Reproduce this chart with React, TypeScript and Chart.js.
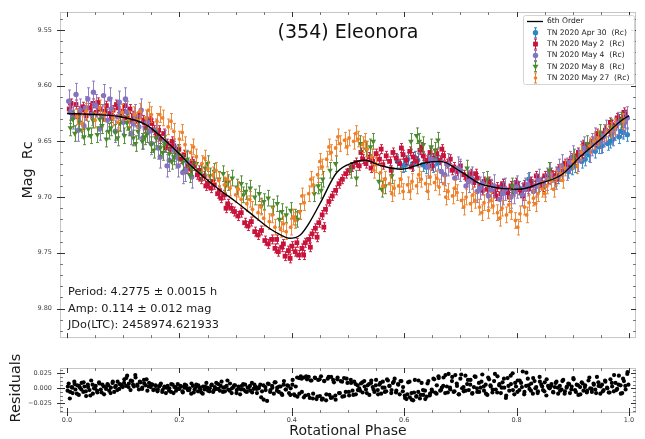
import React, { useEffect, useRef } from 'react';
import { Chart, registerables } from 'chart.js';
Chart.register(...registerables);

const FONT = '"DejaVu Sans", "Liberation Sans", sans-serif';

// 6th order Fourier fit (phase, mag)
const fitPhase = [0.000, 0.050, 0.095, 0.140, 0.185, 0.225, 0.270, 0.300, 0.330, 0.360, 0.380, 0.395, 0.415, 0.430, 0.450, 0.480, 0.510, 0.530, 0.560, 0.595, 0.640, 0.665, 0.700, 0.735, 0.770, 0.805, 0.840, 0.880, 0.915, 0.950, 0.985, 1.000];
const fitMag = [9.625, 9.626, 9.628, 9.635, 9.654, 9.674, 9.693, 9.704, 9.716, 9.728, 9.734, 9.737, 9.734, 9.724, 9.706, 9.678, 9.669, 9.667, 9.672, 9.675, 9.669, 9.668, 9.677, 9.688, 9.692, 9.693, 9.688, 9.680, 9.663, 9.648, 9.632, 9.627];

// Session data: [phase, mag]
const apr30 = [
  [0.588, 9.668], [0.597, 9.672], [0.606, 9.666], [0.615, 9.670], [0.624, 9.667], [0.633, 9.671], [0.642, 9.668], [0.651, 9.672], [0.660, 9.669],
  [0.775, 9.690], [0.805, 9.692], [0.822, 9.684], [0.838, 9.690], [0.855, 9.683], [0.868, 9.685], [0.880, 9.679], [0.892, 9.677], [0.904, 9.672],
  [0.916, 9.668], [0.928, 9.662], [0.940, 9.659], [0.952, 9.654], [0.962, 9.652], [0.972, 9.648], [0.982, 9.646], [0.990, 9.642], [0.997, 9.644],
  [0.602, 9.671], [0.620, 9.665], [0.638, 9.673], [0.656, 9.666], [0.846, 9.688], [0.874, 9.682], [0.898, 9.674], [0.922, 9.666], [0.946, 9.655],
  [0.967, 9.650], [0.986, 9.641],
];
const may2 = [
  [0.004, 9.621], [0.010, 9.626], [0.016, 9.617], [0.022, 9.623], [0.028, 9.619], [0.034, 9.627], [0.040, 9.620], [0.046, 9.616], [0.052, 9.624],
  [0.058, 9.621], [0.064, 9.628], [0.070, 9.618], [0.076, 9.625], [0.082, 9.622], [0.088, 9.617], [0.094, 9.627], [0.100, 9.623], [0.106, 9.629],
  [0.112, 9.621], [0.118, 9.627], [0.124, 9.632], [0.130, 9.625], [0.136, 9.631], [0.142, 9.635], [0.148, 9.630], [0.154, 9.640], [0.160, 9.644],
  [0.166, 9.648], [0.172, 9.643], [0.178, 9.652], [0.184, 9.657], [0.190, 9.654], [0.196, 9.662], [0.202, 9.666], [0.208, 9.662], [0.214, 9.671],
  [0.220, 9.675], [0.226, 9.672], [0.232, 9.680], [0.238, 9.684], [0.244, 9.681], [0.250, 9.688], [0.256, 9.692], [0.262, 9.689], [0.268, 9.697],
  [0.274, 9.701], [0.280, 9.698], [0.286, 9.706], [0.292, 9.710], [0.298, 9.713], [0.304, 9.717], [0.310, 9.714], [0.316, 9.723], [0.322, 9.726],
  [0.328, 9.722], [0.334, 9.731], [0.340, 9.734], [0.346, 9.730], [0.352, 9.739], [0.358, 9.742], [0.364, 9.738], [0.370, 9.746], [0.376, 9.749],
  [0.382, 9.745], [0.388, 9.753], [0.394, 9.748], [0.400, 9.744], [0.406, 9.749], [0.412, 9.752], [0.418, 9.746], [0.424, 9.741], [0.430, 9.738],
  [0.436, 9.733], [0.442, 9.728], [0.448, 9.723], [0.454, 9.716], [0.460, 9.711], [0.466, 9.704], [0.472, 9.699], [0.478, 9.694], [0.484, 9.688],
  [0.490, 9.684], [0.496, 9.679], [0.502, 9.676], [0.508, 9.673], [0.514, 9.669], [0.520, 9.672], [0.526, 9.666], [0.532, 9.670], [0.538, 9.664],
  [0.544, 9.668], [0.550, 9.661], [0.556, 9.666], [0.562, 9.671], [0.568, 9.663], [0.574, 9.668], [0.580, 9.660], [0.586, 9.665], [0.592, 9.670],
  [0.598, 9.662], [0.604, 9.667], [0.610, 9.659], [0.616, 9.664], [0.622, 9.668], [0.628, 9.658], [0.634, 9.663], [0.640, 9.667], [0.646, 9.660],
  [0.652, 9.665], [0.658, 9.661], [0.664, 9.667], [0.670, 9.663], [0.676, 9.670], [0.682, 9.666], [0.688, 9.673], [0.694, 9.677], [0.700, 9.672],
  [0.706, 9.680], [0.712, 9.684], [0.718, 9.679], [0.724, 9.687], [0.730, 9.683], [0.736, 9.690], [0.742, 9.686], [0.748, 9.693], [0.754, 9.689],
  [0.760, 9.695], [0.766, 9.691], [0.772, 9.697], [0.778, 9.692], [0.784, 9.696], [0.790, 9.690], [0.796, 9.695], [0.802, 9.691], [0.808, 9.696],
  [0.814, 9.689], [0.820, 9.693], [0.826, 9.686], [0.832, 9.690], [0.838, 9.684], [0.844, 9.687], [0.850, 9.681], [0.856, 9.684], [0.862, 9.678],
  [0.868, 9.681], [0.874, 9.675], [0.880, 9.677], [0.886, 9.670], [0.892, 9.672], [0.898, 9.665], [0.904, 9.667], [0.910, 9.660], [0.916, 9.661],
  [0.922, 9.655], [0.928, 9.656], [0.934, 9.650], [0.940, 9.651], [0.946, 9.645], [0.952, 9.646], [0.958, 9.640], [0.964, 9.641], [0.970, 9.635],
  [0.976, 9.636], [0.982, 9.630], [0.988, 9.631], [0.994, 9.626],
  [0.523, 9.660], [0.541, 9.674], [0.559, 9.657], [0.577, 9.676], [0.595, 9.656], [0.613, 9.673], [0.631, 9.655], [0.649, 9.672], [0.667, 9.657],
  [0.685, 9.676], [0.373, 9.738], [0.385, 9.742], [0.397, 9.755], [0.409, 9.741], [0.421, 9.752], [0.433, 9.745], [0.445, 9.736], [0.457, 9.727],
  [0.007, 9.616], [0.019, 9.628], [0.031, 9.622], [0.043, 9.625], [0.055, 9.615], [0.067, 9.623], [0.079, 9.629], [0.091, 9.620], [0.103, 9.618],
  [0.115, 9.632], [0.127, 9.628], [0.139, 9.638], [0.151, 9.634], [0.163, 9.640], [0.175, 9.656], [0.187, 9.650], [0.199, 9.657], [0.211, 9.675],
  [0.223, 9.668], [0.235, 9.676], [0.247, 9.690], [0.259, 9.686], [0.271, 9.694], [0.283, 9.710], [0.727, 9.679], [0.739, 9.694], [0.751, 9.686],
  [0.763, 9.699], [0.775, 9.688], [0.787, 9.700], [0.799, 9.687], [0.811, 9.699], [0.823, 9.690], [0.835, 9.681], [0.847, 9.691], [0.859, 9.679],
  [0.871, 9.684], [0.883, 9.672], [0.895, 9.668], [0.907, 9.663], [0.919, 9.653], [0.931, 9.654], [0.943, 9.643], [0.955, 9.643], [0.967, 9.633],
  [0.979, 9.629], [0.991, 9.624],
];
const may4 = [
  [0.003, 9.614], [0.010, 9.629], [0.016, 9.608], [0.023, 9.622], [0.030, 9.636], [0.037, 9.612], [0.044, 9.626], [0.051, 9.618], [0.058, 9.639],
  [0.065, 9.609], [0.072, 9.631], [0.079, 9.621], [0.086, 9.641], [0.093, 9.615], [0.100, 9.633], [0.107, 9.624], [0.114, 9.643], [0.121, 9.627],
  [0.128, 9.637], [0.135, 9.647], [0.142, 9.633], [0.150, 9.652], [0.158, 9.640], [0.166, 9.664], [0.174, 9.650], [0.182, 9.667], [0.190, 9.658],
  [0.198, 9.672], [0.206, 9.678], [0.214, 9.668], [0.222, 9.682],
  [0.006, 9.624], [0.020, 9.640], [0.033, 9.620], [0.047, 9.606], [0.062, 9.627], [0.076, 9.612], [0.090, 9.628], [0.104, 9.612], [0.118, 9.634],
  [0.132, 9.622], [0.146, 9.641], [0.162, 9.656], [0.178, 9.672], [0.194, 9.664], [0.210, 9.676],
  [0.642, 9.673], [0.654, 9.667], [0.666, 9.677], [0.678, 9.671], [0.690, 9.683], [0.700, 9.676], [0.710, 9.690], [0.720, 9.683], [0.730, 9.695],
  [0.740, 9.688], [0.750, 9.699], [0.760, 9.690], [0.770, 9.702], [0.780, 9.693], [0.790, 9.700], [0.800, 9.691], [0.810, 9.698], [0.820, 9.689],
  [0.830, 9.695], [0.840, 9.685], [0.850, 9.690], [0.860, 9.679], [0.870, 9.683], [0.880, 9.672], [0.890, 9.675], [0.900, 9.664], [0.910, 9.667],
  [0.920, 9.656], [0.930, 9.659], [0.940, 9.648], [0.950, 9.651], [0.960, 9.641], [0.970, 9.643], [0.980, 9.634], [0.990, 9.636], [0.997, 9.629],
  [0.648, 9.666], [0.672, 9.680], [0.695, 9.674], [0.715, 9.686], [0.735, 9.692], [0.755, 9.694], [0.775, 9.697], [0.795, 9.696], [0.815, 9.693],
  [0.835, 9.690], [0.855, 9.684], [0.875, 9.676], [0.895, 9.669], [0.915, 9.660], [0.935, 9.653], [0.955, 9.645], [0.975, 9.639], [0.993, 9.633],
];
const may8 = [
  [0.006, 9.638], [0.014, 9.643], [0.022, 9.633], [0.030, 9.646], [0.038, 9.639], [0.046, 9.631], [0.054, 9.644], [0.062, 9.636], [0.070, 9.648],
  [0.078, 9.638], [0.086, 9.642], [0.094, 9.634], [0.102, 9.645], [0.110, 9.638], [0.118, 9.647], [0.126, 9.641], [0.134, 9.650], [0.142, 9.644],
  [0.150, 9.653], [0.158, 9.647], [0.166, 9.656], [0.174, 9.652], [0.182, 9.661], [0.190, 9.664], [0.198, 9.660], [0.206, 9.669], [0.214, 9.666],
  [0.222, 9.674], [0.230, 9.670], [0.238, 9.678], [0.246, 9.674], [0.254, 9.681], [0.262, 9.677], [0.270, 9.684], [0.278, 9.679], [0.286, 9.687],
  [0.294, 9.683], [0.302, 9.691], [0.310, 9.688], [0.318, 9.695], [0.326, 9.692], [0.334, 9.700], [0.342, 9.697], [0.350, 9.704], [0.358, 9.701],
  [0.366, 9.709], [0.374, 9.706], [0.382, 9.713], [0.390, 9.716], [0.398, 9.712], [0.406, 9.718], [0.414, 9.713], [0.440, 9.697], [0.447, 9.690],
  [0.455, 9.684], [0.468, 9.676], [0.478, 9.670], [0.505, 9.676], [0.515, 9.683], [0.522, 9.652], [0.532, 9.657], [0.545, 9.650], [0.555, 9.686],
  [0.566, 9.690], [0.578, 9.681], [0.612, 9.650], [0.622, 9.645], [0.634, 9.653], [0.648, 9.655], [0.660, 9.649], [0.712, 9.674], [0.748, 9.684],
  [0.792, 9.690], [0.858, 9.676], [0.902, 9.664], [0.926, 9.652], [0.948, 9.642], [0.968, 9.637], [0.986, 9.631],
  [0.010, 9.630], [0.026, 9.640], [0.042, 9.645], [0.058, 9.630], [0.074, 9.641], [0.090, 9.647], [0.106, 9.633], [0.122, 9.652], [0.138, 9.646],
  [0.154, 9.658], [0.170, 9.660], [0.186, 9.668], [0.218, 9.680], [0.250, 9.670], [0.282, 9.690], [0.314, 9.698], [0.346, 9.708], [0.378, 9.720],
  [0.410, 9.720], [0.452, 9.694], [0.540, 9.655], [0.560, 9.693], [0.627, 9.650], [0.655, 9.658],
];
const may27 = [
  [0.018, 9.628], [0.034, 9.623], [0.050, 9.631], [0.066, 9.625], [0.082, 9.629], [0.098, 9.624], [0.110, 9.630], [0.120, 9.626], [0.130, 9.623],
  [0.140, 9.629], [0.150, 9.626], [0.160, 9.632], [0.170, 9.629], [0.180, 9.637], [0.190, 9.641], [0.200, 9.648], [0.210, 9.653], [0.220, 9.660],
  [0.230, 9.664], [0.240, 9.670], [0.250, 9.675], [0.260, 9.680], [0.270, 9.685], [0.280, 9.689], [0.290, 9.692], [0.300, 9.698], [0.310, 9.702],
  [0.320, 9.706], [0.330, 9.711], [0.340, 9.714], [0.350, 9.719], [0.360, 9.722], [0.370, 9.727], [0.380, 9.729], [0.390, 9.731], [0.398, 9.727],
  [0.406, 9.721], [0.414, 9.713], [0.422, 9.705], [0.430, 9.697], [0.438, 9.689], [0.446, 9.680], [0.454, 9.673], [0.462, 9.666], [0.470, 9.660],
  [0.478, 9.656], [0.486, 9.652], [0.494, 9.649], [0.502, 9.647], [0.510, 9.650], [0.518, 9.648], [0.526, 9.653], [0.534, 9.657], [0.542, 9.664],
  [0.550, 9.671], [0.558, 9.678], [0.566, 9.684], [0.574, 9.688], [0.582, 9.692], [0.590, 9.690], [0.598, 9.695], [0.606, 9.689], [0.614, 9.686],
  [0.622, 9.690], [0.630, 9.684], [0.638, 9.688], [0.646, 9.682], [0.654, 9.687], [0.662, 9.691], [0.670, 9.688], [0.678, 9.695], [0.686, 9.699],
  [0.694, 9.696], [0.702, 9.703], [0.710, 9.700], [0.718, 9.706], [0.726, 9.703], [0.734, 9.709], [0.742, 9.705], [0.750, 9.712], [0.758, 9.708],
  [0.766, 9.714], [0.774, 9.710], [0.782, 9.716], [0.790, 9.713], [0.798, 9.721], [0.806, 9.715], [0.814, 9.709], [0.822, 9.705], [0.830, 9.701],
  [0.838, 9.697], [0.846, 9.693], [0.854, 9.690], [0.862, 9.686], [0.870, 9.683], [0.878, 9.679], [0.886, 9.674], [0.900, 9.668], [0.915, 9.660],
  [0.930, 9.654], [0.945, 9.647], [0.960, 9.642], [0.975, 9.637], [0.990, 9.632],
  [0.026, 9.634], [0.058, 9.620], [0.090, 9.633], [0.125, 9.631], [0.145, 9.622], [0.165, 9.626], [0.185, 9.632], [0.205, 9.642], [0.225, 9.655],
  [0.245, 9.665], [0.265, 9.676], [0.285, 9.684], [0.305, 9.693], [0.325, 9.702], [0.345, 9.709], [0.365, 9.716], [0.385, 9.724], [0.402, 9.718],
  [0.418, 9.699], [0.434, 9.684], [0.450, 9.668], [0.466, 9.655], [0.482, 9.646], [0.498, 9.655], [0.514, 9.643], [0.530, 9.650], [0.546, 9.676],
  [0.562, 9.690], [0.578, 9.697], [0.594, 9.684], [0.610, 9.695], [0.626, 9.680], [0.642, 9.695], [0.658, 9.683], [0.674, 9.700], [0.690, 9.692],
  [0.706, 9.709], [0.722, 9.698], [0.738, 9.714], [0.754, 9.703], [0.770, 9.719], [0.786, 9.707], [0.802, 9.727], [0.818, 9.716], [0.834, 9.706],
  [0.850, 9.697], [0.866, 9.693], [0.882, 9.685], [0.908, 9.672], [0.938, 9.650], [0.968, 9.640],
];

// Error bar half-lengths (mag) per session
const errApr30 = 0.006;
const errMay2 = 0.004;
const errMay4 = 0.010;
const errMay8 = 0.007;
const errMay27 = 0.007;

// Residuals: [phase, residual mag]
const residuals = [
  [0.001, -0.004], [0.003, 0.008], [0.005, -0.017], [0.008, 0.002], [0.010, -0.008], [0.013, 0.011], [0.015, -0.002], [0.018, 0.005], [0.021, -0.011], [0.023, 0.001],
  [0.026, 0.009], [0.029, -0.006], [0.031, 0.003], [0.034, -0.013], [0.037, 0.006], [0.040, -0.003], [0.043, 0.013], [0.046, -0.009], [0.048, 0.000], [0.051, 0.004],
  [0.054, -0.007], [0.057, 0.010], [0.060, -0.002], [0.063, 0.006], [0.066, -0.010], [0.069, 0.003], [0.072, 0.007], [0.075, -0.004], [0.078, 0.001], [0.081, 0.009],
  [0.084, -0.006], [0.087, 0.004], [0.090, 0.011], [0.093, -0.001], [0.096, 0.006], [0.099, 0.002],
  [0.102, 0.015], [0.105, 0.004], [0.107, 0.021], [0.110, 0.008], [0.113, -0.003], [0.116, 0.012], [0.119, 0.003], [0.122, 0.018], [0.125, 0.006], [0.128, -0.002],
  [0.131, 0.010], [0.134, 0.001], [0.137, 0.014], [0.140, 0.005], [0.143, -0.004], [0.146, 0.009], [0.149, 0.002], [0.152, 0.006], [0.155, -0.002], [0.158, 0.004],
  [0.161, -0.005], [0.164, 0.003], [0.167, 0.008], [0.170, -0.003], [0.173, 0.001], [0.176, -0.008], [0.179, 0.004], [0.182, 0.000], [0.185, -0.006], [0.188, 0.006],
  [0.191, 0.002], [0.194, -0.004], [0.197, 0.007], [0.200, -0.001], [0.203, 0.003], [0.206, -0.007], [0.209, 0.001], [0.212, 0.005], [0.215, -0.003], [0.218, 0.000],
  [0.221, -0.009], [0.224, 0.004], [0.227, -0.002], [0.230, 0.006], [0.233, -0.005], [0.236, 0.001], [0.239, -0.007], [0.242, 0.003], [0.245, -0.002], [0.248, 0.009],
  [0.251, -0.004], [0.254, 0.000], [0.257, 0.005], [0.260, -0.006], [0.263, 0.002], [0.266, -0.001], [0.269, 0.007], [0.272, -0.004], [0.275, 0.011], [0.278, 0.001],
  [0.281, -0.005], [0.284, 0.004], [0.287, -0.002], [0.290, 0.008], [0.293, -0.008], [0.296, 0.002], [0.299, 0.005], [0.302, -0.003], [0.305, 0.000], [0.308, -0.010],
  [0.311, 0.004], [0.314, -0.002], [0.317, 0.006], [0.320, -0.006], [0.323, 0.001], [0.326, -0.004], [0.329, 0.009], [0.332, -0.001], [0.335, 0.003], [0.338, -0.008],
  [0.341, 0.000], [0.344, 0.006], [0.347, -0.005], [0.350, -0.019], [0.353, 0.002], [0.356, -0.021], [0.359, 0.007], [0.362, -0.003], [0.365, 0.004], [0.368, -0.009],
  [0.371, 0.010], [0.374, 0.001], [0.377, -0.006], [0.380, 0.003], [0.383, -0.011], [0.386, 0.012], [0.389, -0.002], [0.392, 0.005], [0.395, -0.008], [0.398, 0.000],
  [0.401, 0.006], [0.404, -0.010], [0.407, 0.003], [0.410, -0.014], [0.413, 0.017], [0.416, 0.020], [0.418, -0.006], [0.421, 0.018], [0.424, -0.012], [0.427, 0.015],
  [0.430, 0.019], [0.432, -0.016], [0.435, 0.013], [0.438, -0.009], [0.441, 0.018], [0.444, -0.018], [0.447, 0.014], [0.450, -0.013], [0.452, 0.020], [0.455, -0.017],
  [0.458, 0.012], [0.461, -0.020], [0.464, 0.016], [0.467, -0.011], [0.470, 0.019], [0.472, -0.015], [0.475, 0.010], [0.478, -0.019], [0.481, 0.015], [0.484, -0.008],
  [0.487, 0.012], [0.490, -0.014], [0.493, 0.017], [0.496, -0.006], [0.499, 0.009], [0.502, -0.012], [0.505, 0.014], [0.508, -0.004], [0.511, 0.011], [0.514, -0.010],
  [0.517, 0.005], [0.520, 0.000], [0.523, 0.008], [0.526, -0.007], [0.529, 0.012], [0.532, -0.002], [0.535, 0.005], [0.538, -0.011], [0.541, 0.009], [0.544, 0.002],
  [0.547, -0.006], [0.550, 0.014], [0.553, -0.003], [0.556, 0.006], [0.559, -0.009], [0.562, 0.011], [0.565, 0.001], [0.568, -0.005], [0.571, 0.013], [0.574, 0.004],
  [0.577, -0.008], [0.580, 0.009], [0.583, 0.016], [0.586, -0.004], [0.589, 0.007], [0.592, -0.010], [0.595, 0.012], [0.598, 0.002],
  [0.601, -0.012], [0.604, -0.018], [0.607, 0.010], [0.610, -0.015], [0.613, -0.008], [0.616, -0.020], [0.619, 0.014], [0.622, -0.013], [0.625, -0.006], [0.628, -0.017],
  [0.631, 0.009], [0.634, -0.011], [0.637, -0.004], [0.640, -0.014], [0.643, 0.012], [0.646, -0.009], [0.649, -0.002], [0.652, 0.016], [0.655, -0.007], [0.658, 0.005],
  [0.661, 0.020], [0.664, -0.004], [0.667, 0.001], [0.670, 0.018], [0.673, -0.008], [0.676, 0.003], [0.679, 0.024], [0.682, -0.002], [0.685, 0.012], [0.688, -0.006],
  [0.691, 0.022], [0.694, 0.004], [0.697, -0.010], [0.700, 0.016], [0.703, 0.000], [0.706, -0.005], [0.709, 0.021], [0.712, 0.007], [0.715, -0.003], [0.718, 0.014],
  [0.721, -0.009], [0.724, 0.002], [0.727, 0.019], [0.730, -0.006], [0.733, 0.009], [0.736, 0.001], [0.739, 0.023], [0.742, -0.004], [0.745, 0.006], [0.748, -0.011],
  [0.751, 0.015], [0.754, 0.003], [0.757, -0.007], [0.760, 0.012], [0.763, -0.002], [0.766, 0.020], [0.769, 0.005], [0.772, -0.008], [0.775, 0.010], [0.778, 0.001],
  [0.781, -0.016], [0.784, 0.017], [0.787, -0.004], [0.790, 0.007], [0.793, 0.025], [0.796, -0.010], [0.799, 0.003], [0.802, 0.013], [0.805, -0.003], [0.808, 0.009],
  [0.811, 0.028], [0.814, -0.006], [0.817, 0.004], [0.820, 0.016], [0.823, -0.001], [0.826, 0.008], [0.829, -0.009], [0.832, 0.012], [0.835, 0.002], [0.838, -0.005],
  [0.841, 0.019], [0.844, 0.006], [0.847, -0.003], [0.850, 0.010], [0.853, -0.012], [0.856, 0.004], [0.859, 0.000],
  [0.862, 0.007], [0.865, -0.006], [0.868, 0.002], [0.871, 0.011], [0.874, -0.009], [0.877, 0.004], [0.880, -0.002], [0.883, 0.014], [0.886, -0.005], [0.889, 0.001],
  [0.892, 0.008], [0.895, -0.008], [0.898, 0.003], [0.901, 0.017], [0.904, -0.003], [0.907, 0.006], [0.910, -0.011], [0.913, 0.002], [0.916, 0.010], [0.919, -0.004],
  [0.922, 0.005], [0.925, -0.007], [0.928, 0.013], [0.931, 0.000], [0.934, -0.006], [0.937, 0.008], [0.940, -0.002], [0.943, 0.019], [0.946, 0.004], [0.949, -0.009],
  [0.952, 0.006], [0.955, -0.003], [0.958, 0.011], [0.961, 0.001], [0.964, -0.007], [0.967, 0.015], [0.970, 0.003], [0.973, -0.005], [0.976, 0.009], [0.979, -0.001],
  [0.982, 0.021], [0.985, 0.005], [0.988, -0.008], [0.991, 0.012], [0.994, -0.002], [0.997, 0.024], [0.999, 0.006],
];
const residualsExtra = [
  [0.0015, 0.003], [0.0055, -0.006], [0.0095, 0.001], [0.0135, 0.007], [0.0175, -0.009], [0.0215, 0.004], [0.0255, -0.002], [0.0295, 0.010], [0.0335, -0.005], [0.0375, 0.002],
  [0.0415, -0.012], [0.0455, 0.006], [0.0495, 0.000], [0.0535, -0.004], [0.0575, 0.008], [0.0615, -0.007], [0.0655, 0.003], [0.0695, -0.001], [0.0735, 0.005], [0.0775, -0.008],
  [0.0815, 0.011], [0.0855, 0.002], [0.0895, -0.003], [0.0935, 0.007], [0.0975, 0.004],
  [0.1015, 0.009], [0.1055, 0.017], [0.1095, 0.002], [0.1135, 0.013], [0.1175, 0.006], [0.1215, 0.022], [0.1255, 0.004], [0.1295, 0.011], [0.1335, -0.001], [0.1375, 0.008],
  [0.1415, 0.015], [0.1455, 0.003], [0.1495, 0.007], [0.1535, -0.003], [0.1575, 0.005],
  [0.1615, -0.002], [0.1655, 0.005], [0.1695, -0.006], [0.1735, 0.003], [0.1775, 0.001], [0.1815, -0.004], [0.1855, 0.007], [0.1895, -0.008], [0.1935, 0.002], [0.1975, -0.001],
  [0.2015, 0.004], [0.2055, -0.005], [0.2095, 0.006], [0.2135, 0.000], [0.2175, -0.003], [0.2215, 0.008], [0.2255, -0.007], [0.2295, 0.002], [0.2335, 0.005], [0.2375, -0.002],
  [0.2415, -0.009], [0.2455, 0.003], [0.2495, 0.001], [0.2535, -0.005], [0.2575, 0.006], [0.2615, -0.003], [0.2655, 0.009], [0.2695, -0.001], [0.2735, 0.004], [0.2775, -0.006],
  [0.2815, 0.002], [0.2855, 0.013], [0.2895, -0.004], [0.2935, 0.000], [0.2975, 0.005], [0.3015, -0.008], [0.3055, 0.003], [0.3095, -0.002], [0.3135, 0.007], [0.3175, -0.005],
  [0.3215, 0.001], [0.3255, 0.004], [0.3295, -0.007], [0.3335, 0.006], [0.3375, -0.001], [0.3415, 0.002], [0.3455, -0.015], [0.3495, 0.005], [0.3535, -0.003], [0.3575, 0.008],
  [0.3615, -0.006], [0.3655, 0.001], [0.3695, 0.010], [0.3735, -0.004], [0.3775, 0.003], [0.3815, -0.009], [0.3855, 0.006], [0.3895, -0.002], [0.3935, 0.004], [0.3975, -0.011],
  [0.4015, 0.014], [0.4055, -0.012], [0.4095, 0.018], [0.4135, -0.009], [0.4175, 0.016], [0.4215, -0.015], [0.4255, 0.020], [0.4295, -0.011], [0.4335, 0.013], [0.4375, -0.017],
  [0.4415, 0.017], [0.4455, -0.014], [0.4495, 0.015], [0.4535, -0.019], [0.4575, 0.012], [0.4615, -0.010], [0.4655, 0.019], [0.4695, -0.016], [0.4735, 0.014], [0.4775, -0.012],
  [0.4815, 0.018], [0.4855, -0.008], [0.4895, 0.011], [0.4935, -0.013], [0.4975, 0.016], [0.5015, -0.006], [0.5055, 0.009], [0.5095, -0.011], [0.5135, 0.007], [0.5175, -0.003],
  [0.5215, -0.004], [0.5255, 0.010], [0.5295, 0.003], [0.5335, -0.008], [0.5375, 0.007], [0.5415, 0.013], [0.5455, -0.002], [0.5495, 0.005], [0.5535, -0.010], [0.5575, 0.009],
  [0.5615, 0.001], [0.5655, -0.006], [0.5695, 0.015], [0.5735, 0.004], [0.5775, -0.003], [0.5815, 0.011], [0.5855, -0.007], [0.5895, 0.006], [0.5935, 0.012], [0.5975, -0.005],
  [0.6015, -0.016], [0.6055, -0.010], [0.6095, 0.011], [0.6135, -0.019], [0.6175, -0.007], [0.6215, -0.014], [0.6255, 0.013], [0.6295, -0.011], [0.6335, -0.003], [0.6375, -0.018],
  [0.6415, 0.008], [0.6455, -0.012], [0.6495, -0.005], [0.6535, 0.015], [0.6575, -0.009],
  [0.6615, 0.017], [0.6655, -0.003], [0.6695, 0.004], [0.6735, 0.022], [0.6775, -0.007], [0.6815, 0.001], [0.6855, 0.019], [0.6895, -0.005], [0.6935, 0.008], [0.6975, -0.010],
  [0.7015, 0.023], [0.7055, 0.002], [0.7095, -0.004], [0.7135, 0.014], [0.7175, 0.006], [0.7215, -0.008], [0.7255, 0.020], [0.7295, 0.000], [0.7335, -0.006], [0.7375, 0.011],
  [0.7415, 0.003], [0.7455, -0.009], [0.7495, 0.018], [0.7535, 0.005], [0.7575, -0.002], [0.7615, 0.024], [0.7655, -0.007], [0.7695, 0.007], [0.7735, 0.001], [0.7775, 0.016],
  [0.7815, -0.012], [0.7855, 0.004], [0.7895, 0.021], [0.7935, -0.003], [0.7975, 0.009], [0.8015, -0.006], [0.8055, 0.013], [0.8095, 0.002], [0.8135, -0.010], [0.8175, 0.026],
  [0.8215, 0.005], [0.8255, -0.004], [0.8295, 0.017], [0.8335, 0.000], [0.8375, -0.008], [0.8415, 0.011], [0.8455, 0.003], [0.8495, -0.005], [0.8535, 0.015], [0.8575, 0.001],
  [0.8615, 0.004], [0.8655, -0.007], [0.8695, 0.009], [0.8735, 0.001], [0.8775, -0.004], [0.8815, 0.012], [0.8855, -0.009], [0.8895, 0.003], [0.8935, 0.007], [0.8975, -0.002],
  [0.9015, 0.015], [0.9055, -0.006], [0.9095, 0.005], [0.9135, -0.010], [0.9175, 0.008], [0.9215, 0.002], [0.9255, -0.004], [0.9295, 0.018], [0.9335, -0.001], [0.9375, 0.006],
  [0.9415, -0.008], [0.9455, 0.010], [0.9495, 0.003], [0.9535, -0.005], [0.9575, 0.013], [0.9615, 0.000], [0.9655, -0.007], [0.9695, 0.009], [0.9735, 0.022], [0.9775, -0.003],
  [0.9815, 0.006], [0.9855, -0.009], [0.9895, 0.016], [0.9935, 0.004], [0.9975, 0.027],
];

const fitLabel = '6th Order';
const sessionLabels = ['TN 2020 Apr 30  (Rc)', 'TN 2020 May 2  (Rc)', 'TN 2020 May 4  (Rc)', 'TN 2020 May 8  (Rc)', 'TN 2020 May 27  (Rc)'];
const sessionColors = ['#2c86c4', '#c8133a', '#8673bd', '#4a8a2e', '#ee8028'];
const sessionMarkers = ['circle', 'rect', 'circle', 'triangleDown', 'dot'];

const mainYTicks = [9.55, 9.60, 9.65, 9.70, 9.75, 9.80];
const phaseTicks = [0, 0.2, 0.4, 0.6, 0.8, 1.0];
const residualTicks = [-0.025, 0, 0.025];

const infoLines = ['Period: 4.2775 \u00b1 0.0015 h', 'Amp: 0.114 \u00b1 0.012 mag', 'JDo(LTC): 2458974.621933'];
const titleText = '(354) Eleonora';

function range(a: number, b: number, step: number) {
  const out: number[] = [];
  const n = Math.round((b - a) / step);
  for (let i = 0; i <= n; i++) out.push(Math.round((a + i * step) * 1e6) / 1e6);
  return out;
}
function minus(arr: number[], rem: number[]) {
  return arr.filter((v) => !rem.some((r) => Math.abs(r - v) < 1e-6));
}

function drawMarker(ctx: CanvasRenderingContext2D, kind: string, x: number, y: number, color: string) {
  ctx.fillStyle = color;
  ctx.beginPath();
  if (kind === 'circle') ctx.arc(x, y, 2.7, 0, Math.PI * 2);
  else if (kind === 'rect') ctx.rect(x - 2.4, y - 2.4, 4.8, 4.8);
  else if (kind === 'triangleDown') { ctx.moveTo(x - 3, y - 2); ctx.lineTo(x + 3, y - 2); ctx.lineTo(x, y + 3); ctx.closePath(); }
  else ctx.arc(x, y, 1.8, 0, Math.PI * 2);
  ctx.fill();
}

const errorBarPlugin = {
  id: 'errorBars',
  beforeDatasetDraw(chart: any, args: any) {
    const ds = chart.data.datasets[args.index];
    if (!ds.errorBar) return;
    const ys = chart.scales.y;
    const ctx = chart.ctx;
    ctx.save();
    ctx.strokeStyle = ds.borderColor;
    ctx.globalAlpha = 0.9;
    ctx.lineWidth = 1;
    ctx.beginPath();
    args.meta.data.forEach((el: any, i: number) => {
      const d = ds.data[i];
      const x = Math.round(el.x) + 0.5;
      const y1 = ys.getPixelForValue(d.y - ds.errorBar);
      const y2 = ys.getPixelForValue(d.y + ds.errorBar);
      ctx.moveTo(x, y1); ctx.lineTo(x, y2);
      ctx.moveTo(x - 1.5, y1); ctx.lineTo(x + 1.5, y1);
      ctx.moveTo(x - 1.5, y2); ctx.lineTo(x + 1.5, y2);
    });
    ctx.stroke();
    ctx.restore();
  },
};

function framePlugin(id: string, xMaj: number[], xMin: number[], yMaj: number[], yMin: number[], bottomOut: boolean) {
  return {
    id,
    afterDatasetsDraw(chart: any) {
      const { ctx, chartArea: a, scales } = chart;
      const xs = scales.x, ys = scales.y;
      ctx.save();
      ctx.lineWidth = 1;
      ctx.strokeStyle = '#c6c6c6';
      ctx.strokeRect(a.left + 0.5, a.top + 0.5, a.right - a.left - 1, a.bottom - a.top - 1);
      const tick = (vals: number[], len: number, color: string, major: boolean) => {
        ctx.strokeStyle = color;
        ctx.beginPath();
        vals.forEach((v) => {
          const x = Math.round(xs.getPixelForValue(v)) + 0.5;
          ctx.moveTo(x, a.bottom); ctx.lineTo(x, a.bottom - len);
          if (major && bottomOut) { ctx.moveTo(x, a.bottom); ctx.lineTo(x, a.bottom + 3); }
          ctx.moveTo(x, a.top); ctx.lineTo(x, a.top + len);
        });
        ctx.stroke();
      };
      const ytick = (vals: number[], len: number, color: string, major: boolean) => {
        ctx.strokeStyle = color;
        ctx.beginPath();
        vals.forEach((v) => {
          const y = Math.round(ys.getPixelForValue(v)) + 0.5;
          ctx.moveTo(a.left, y); ctx.lineTo(a.left + len, y);
          if (major) { ctx.moveTo(a.left, y); ctx.lineTo(a.left - 3, y); }
          ctx.moveTo(a.right, y); ctx.lineTo(a.right - len, y);
        });
        ctx.stroke();
      };
      tick(xMin, 3, '#777', false);
      tick(xMaj, 5, '#333', true);
      ytick(yMin, 3, '#777', false);
      ytick(yMaj, 5, '#333', true);
      ctx.restore();
    },
  };
}

const mainTextPlugin = {
  id: 'mainText',
  afterDraw(chart: any) {
    const ctx = chart.ctx;
    ctx.save();
    ctx.fillStyle = '#111';
    ctx.textBaseline = 'middle';
    ctx.textAlign = 'center';
    ctx.font = `19px ${FONT}`;
    ctx.fillText(titleText, 348, 33);
    ctx.textAlign = 'left';
    ctx.font = `11.3px ${FONT}`;
    ctx.fillStyle = '#1a1a1a';
    infoLines.forEach((t, i) => ctx.fillText(t, 68, 292 + i * 16.7));
    ctx.save();
    ctx.translate(28, 170);
    ctx.rotate(-Math.PI / 2);
    ctx.textAlign = 'center';
    ctx.font = `14.3px ${FONT}`;
    ctx.fillText('Mag  Rc', 0, 0);
    ctx.restore();
    // legend
    const lx = 523, ly = 15, lw = 111, lh = 69;
    ctx.fillStyle = 'rgba(255,255,255,0.85)';
    ctx.strokeStyle = '#d4d4d4';
    ctx.lineWidth = 1;
    ctx.beginPath();
    ctx.roundRect(lx + 0.5, ly + 0.5, lw, lh, 2);
    ctx.fill();
    ctx.stroke();
    ctx.font = `7.6px ${FONT}`;
    ctx.textAlign = 'left';
    const rowY = (i: number) => 21.5 + i * 11.3;
    ctx.strokeStyle = '#000';
    ctx.lineWidth = 1.3;
    ctx.beginPath();
    ctx.moveTo(527, rowY(0)); ctx.lineTo(543, rowY(0));
    ctx.stroke();
    ctx.fillStyle = '#222';
    ctx.fillText(fitLabel, 547, rowY(0));
    sessionLabels.forEach((lab, i) => {
      const y = rowY(i + 1);
      const c = sessionColors[i];
      ctx.strokeStyle = c;
      ctx.lineWidth = 1;
      ctx.beginPath();
      ctx.moveTo(535.5, y - 5); ctx.lineTo(535.5, y + 5);
      ctx.moveTo(534, y - 5); ctx.lineTo(537, y - 5);
      ctx.moveTo(534, y + 5); ctx.lineTo(537, y + 5);
      ctx.stroke();
      drawMarker(ctx, sessionMarkers[i], 535.5, y, c);
      ctx.fillStyle = '#222';
      ctx.fillText(lab, 547, y);
    });
    ctx.restore();
  },
};

const resTextPlugin = {
  id: 'resText',
  afterDraw(chart: any) {
    const ctx = chart.ctx;
    ctx.save();
    ctx.fillStyle = '#1a1a1a';
    ctx.textBaseline = 'middle';
    ctx.textAlign = 'center';
    ctx.font = `14px ${FONT}`;
    ctx.fillText('Rotational Phase', 348, 81);
    ctx.save();
    ctx.translate(16, 38);
    ctx.rotate(-Math.PI / 2);
    ctx.font = `14.5px ${FONT}`;
    ctx.fillText('Residuals', 0, 0);
    ctx.restore();
    ctx.restore();
  },
};

function toXY(arr: number[][]) {
  return arr.map((p) => ({ x: p[0], y: p[1] }));
}

function sessionDataset(data: number[][], idx: number, err: number) {
  const c = sessionColors[idx];
  const m = sessionMarkers[idx];
  const style = m === 'rect' ? 'rect' : m === 'triangleDown' ? 'triangle' : 'circle';
  const radius = m === 'rect' ? 3.4 : m === 'triangleDown' ? 3.3 : m === 'dot' ? 1.9 : 2.7;
  return {
    label: sessionLabels[idx],
    data: toXY(data),
    errorBar: err,
    backgroundColor: c,
    borderColor: c,
    borderWidth: 0,
    pointStyle: style,
    pointRotation: m === 'triangleDown' ? 180 : 0,
    pointRadius: radius,
    showLine: false,
  } as any;
}

const fixTicks = (vals: number[]) => (s: any) => { s.ticks = vals.map((v) => ({ value: v })); };

export default function App() {
  const mainRef = useRef<HTMLCanvasElement>(null);
  const resRef = useRef<HTMLCanvasElement>(null);

  useEffect(() => {
    const xMin = minus(range(0, 1, 0.05), phaseTicks);
    const yMin = minus(range(9.54, 9.82, 0.01), mainYTicks);
    const rMin = minus(range(-0.0375, 0.03125, 0.00625), residualTicks);

    const fitData = fitPhase.map((p, i) => ({ x: p, y: fitMag[i] }));

    const main = new Chart(mainRef.current as HTMLCanvasElement, {
      type: 'scatter',
      data: {
        datasets: [
          {
            label: fitLabel,
            data: fitData,
            showLine: true,
            borderColor: '#000',
            borderWidth: 1.4,
            pointRadius: 0,
            cubicInterpolationMode: 'monotone',
            fill: false,
          } as any,
          sessionDataset(may27, 4, errMay27),
          sessionDataset(may8, 3, errMay8),
          sessionDataset(may4, 2, errMay4),
          sessionDataset(may2, 1, errMay2),
          sessionDataset(apr30, 0, errApr30),
        ],
      },
      options: {
        animation: false,
        responsive: false,
        devicePixelRatio: 1,
        events: [],
        layout: { padding: { left: 0, top: 12, right: 9, bottom: 8 } },
        plugins: { legend: { display: false }, tooltip: { enabled: false } },
        scales: {
          x: { type: 'linear', min: -0.0125, max: 1.0125, display: false },
          y: {
            type: 'linear',
            reverse: true,
            min: 9.534,
            max: 9.8265,
            grid: { display: false, drawTicks: false },
            border: { display: false },
            afterBuildTicks: fixTicks(mainYTicks),
            ticks: {
              padding: 8,
              color: '#444',
              font: { family: FONT, size: 6.5 },
              callback: (v: any) => Number(v).toFixed(2),
            },
            afterFit: (s: any) => { s.width = 60; },
          } as any,
        },
      },
      plugins: [errorBarPlugin, framePlugin('frameMain', phaseTicks, xMin, mainYTicks, yMin, false), mainTextPlugin],
    });

    const res = new Chart(resRef.current as HTMLCanvasElement, {
      type: 'scatter',
      data: {
        datasets: [
          {
            label: 'Residuals',
            data: toXY(residuals.concat(residualsExtra)),
            backgroundColor: '#000',
            borderColor: '#000',
            borderWidth: 0,
            pointRadius: 2.1,
          },
        ],
      },
      options: {
        animation: false,
        responsive: false,
        devicePixelRatio: 1,
        events: [],
        layout: { padding: { left: 0, top: 18, right: 9, bottom: 0 } },
        plugins: { legend: { display: false }, tooltip: { enabled: false } },
        scales: {
          x: {
            type: 'linear',
            min: -0.0125,
            max: 1.0125,
            grid: { display: false, drawTicks: false },
            border: { display: false },
            afterBuildTicks: fixTicks(phaseTicks),
            ticks: {
              padding: 3,
              autoSkip: false,
              maxRotation: 0,
              color: '#444',
              font: { family: FONT, size: 6.5 },
              callback: (v: any) => Number(v).toFixed(1),
            },
            afterFit: (s: any) => { s.height = 26; },
          } as any,
          y: {
            type: 'linear',
            min: -0.0412,
            max: 0.0338,
            grid: { display: false, drawTicks: false },
            border: { display: false },
            afterBuildTicks: fixTicks(residualTicks),
            ticks: {
              padding: 8,
              color: '#444',
              font: { family: FONT, size: 6.5 },
              callback: (v: any) => {
                const n = Number(v);
                if (Math.abs(n) < 1e-9) return '0.000';
                return (n < 0 ? '\u2212' : '') + Math.abs(n).toFixed(3);
              },
            },
            afterFit: (s: any) => { s.width = 60; },
          } as any,
        },
      },
      plugins: [framePlugin('frameRes', phaseTicks, xMin, residualTicks, rMin, true), resTextPlugin],
    });

    return () => {
      main.destroy();
      res.destroy();
    };
  }, []);

  return (
    <div style={{ position: 'absolute', left: 0, top: 0, width: 645, height: 439, background: '#fff' }}>
      <canvas ref={mainRef} width={645} height={350} style={{ position: 'absolute', left: 0, top: 0, width: 645, height: 350 }} />
      <canvas ref={resRef} width={645} height={89} style={{ position: 'absolute', left: 0, top: 350, width: 645, height: 89 }} />
    </div>
  );
}
